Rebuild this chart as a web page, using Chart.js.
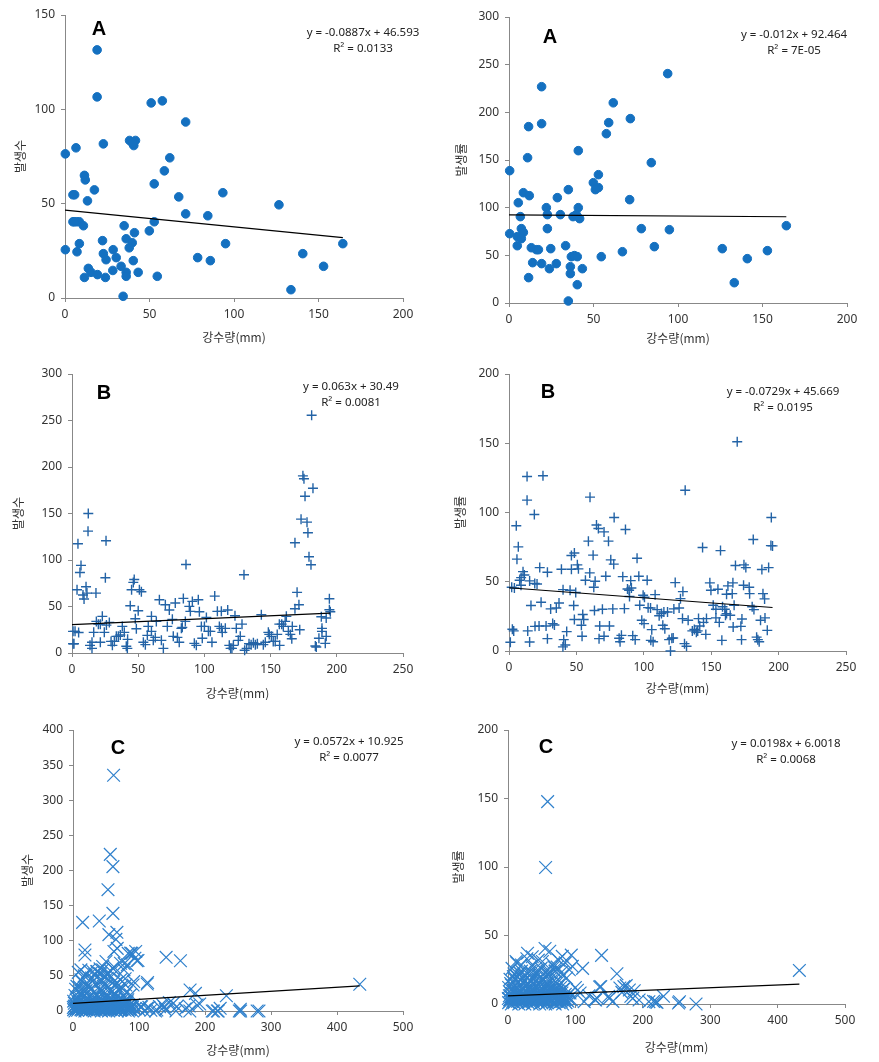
<!DOCTYPE html>
<html>
<head>
<meta charset="utf-8">
<script src="https://cdn.jsdelivr.net/npm/chart.js@4.4.0/dist/chart.umd.min.js"></script>
<style>
html, body { margin: 0; padding: 0; background: #fff; }
#wrap { position: relative; width: 879px; height: 1062px; overflow: hidden; }
#wrap canvas { position: absolute; }
</style>
</head>
<body>
<div id="wrap">
	<canvas id="cA1"></canvas>
	<canvas id="cA2"></canvas>
	<canvas id="cB1"></canvas>
	<canvas id="cB2"></canvas>
	<canvas id="cC1"></canvas>
	<canvas id="cC2"></canvas>
</div>
<script>
// --- A : 강수량 vs 발생수 / 발생률 (circles)
const aRainL = [19, 19, 51, 57.6, 71.4, 22.7, 6.5, 0.2, 38.2, 41.7,
	40.7, 40, 62, 58.8, 11.5, 12, 52.8, 17.4, 4.7, 5.7,
	67.3, 93.4, 13.3, 126.6, 71.4, 84.5, 4.7, 6.9, 8.5, 52.8,
	10.9, 35, 49.9, 41.1, 36.2, 22.2, 8.5, 39.8, 38, 95,
	164.4, 0.2, 7.1, 28.5, 22.7, 140.7, 24.3, 30.3, 78.5, 40.4,
	86, 13.8, 15.4, 153, 33.2, 28.3, 43.3, 36.2, 19.2, 11.5,
	23.9, 36.2, 54.6, 133.7, 34.4, 5.5];
const aCountL = [131.5, 106.6, 103.4, 104.5, 93.3, 81.7, 79.6, 76.4, 83.5, 83.5,
	80.8, 82, 74.3, 67.4, 65, 62.6, 60.5, 57.3, 54.7, 54.7,
	53.6, 55.8, 51.5, 49.4, 44.6, 43.6, 40.4, 40.4, 40.4, 40.4,
	38.3, 38.3, 35.6, 34.6, 31.4, 30.4, 28.8, 29.3, 26.6, 28.8,
	28.8, 25.6, 24.5, 25.6, 23.5, 23.5, 20.3, 21.4, 21.4, 19.8,
	19.8, 15.7, 13.6, 16.8, 16.8, 14.6, 13.6, 13.6, 12.4, 10.9,
	10.9, 11.5, 11.5, 4.4, 0.9, 40.4];

const aRainR = [93.9, 19.3, 61.7, 71.8, 59, 19.3, 11.6, 57.6, 41, 11,
	84.2, 0.4, 52.9, 49.9, 52.9, 51.1, 35.1, 8.5, 12, 28.6,
	71.4, 5.5, 22.1, 41, 22.7, 30.4, 37.9, 39.8, 41.8, 6.7,
	164.1, 22.7, 78.3, 94.9, 7.3, 8.5, 0.4, 4.9, 7.3, 4.9,
	33.5, 86, 13.2, 16.2, 17.4, 24.7, 126.2, 152.9, 67.1, 36.9,
	38.7, 40.4, 54.6, 141, 14, 19.3, 28, 36.3, 23.9, 43.4,
	36.3, 11.6, 40.4, 133.3, 35.1];
const aRateR = [240.6, 226.9, 210, 193.4, 189.2, 188.1, 185, 177.6, 159.8, 152.4,
	147.2, 138.8, 134.6, 126.2, 121, 118.9, 118.9, 115.7, 112.6, 110.5,
	108.4, 105.2, 100, 100, 92.7, 92.7, 90.6, 92.7, 88.5, 90.6,
	81.1, 78, 78, 76.9, 78, 74.1, 72.7, 69.6, 67.5, 60.1,
	60.1, 59.1, 58, 55.9, 55.9, 57, 57, 54.9, 53.8, 48.6,
	49.7, 48.6, 48.6, 46.5, 42.3, 41.3, 41.3, 38.1, 36, 36,
	30.8, 26.6, 19.2, 21.3, 2.1];

// --- B (plus markers)
const bRainL = [181, 174.4, 175.2, 182, 176, 173, 177.5, 178.2, 168.4, 179,
	180.5, 170, 171.4, 168.4, 194.4, 194.4, 195.1, 188.3, 172, 166,
	188.8, 188.8, 186.5, 192, 191.3, 183.8, 184.5, 192, 12.3, 12.1,
	25.7, 4.5, 6.8, 6, 25.2, 10.6, 11.3, 3.8, 8.3, 9.1,
	18.1, 0.8, 2.3, 0.8, 47, 46.3, 45, 50.9, 52.4, 44,
	50, 47.8, 48.6, 86.1, 129.9, 22.9, 18.4, 19.9, 21.4, 16.4,
	24.4, 21.4, 15.1, 13.6, 15.1, 28.2, 29.5, 30.5, 32, 33.5,
	35, 36.5, 38, 39.5, 41, 41.8, 42, 56.9, 55.4, 53.9,
	60, 57.6, 60, 61.4, 63.7, 66, 62.9, 67.5, 69, 70.5,
	72, 73.5, 75.8, 76.5, 78, 79.6, 81, 82.6, 83.3, 84.1,
	85.6, 88.6, 89.4, 90.9, 92.4, 93.9, 95.4, 96.2, 97.7, 98.4,
	100, 101.5, 103, 104.5, 105.7, 107.8, 109.8, 111.3, 112.8, 112.8,
	113.5, 115.8, 117.6, 118.8, 119.8, 120.8, 121.9, 123.1, 124.1, 125.6,
	127.1, 128.4, 130.4, 131.9, 133.7, 135.3, 137, 138.5, 140, 143,
	144.5, 146, 148.3, 149, 150.6, 152, 153.5, 156.8, 155, 156.6,
	158.4, 159.6, 161, 161.9, 163.4, 164.9, 166.4, 5, 1.5, 26];
const bCountL = [255.6, 190.5, 187.3, 177.2, 168.6, 143.9, 140.7, 129.3, 118.5, 103.5,
	94.9, 65.2, 51.9, 47.6, 58.4, 46.5, 44.4, 39, 25, 15.4,
	26.5, 23.3, 15.8, 17.9, 10.4, 7.5, 6.4, 37.6, 150, 131,
	120.7, 117.4, 94.2, 86.6, 80.9, 71.2, 64.4, 68, 62.3, 58,
	64.4, 23.3, 23.3, 10, 79.1, 75.9, 68, 68, 65.9, 50.8,
	45.5, 36.9, 26.1, 95.2, 84.1, 39.4, 34, 31, 31, 22.2,
	22.2, 11.5, 11.5, 8.2, 5, 32.9, 12.5, 8.2, 12.5, 17.9,
	17.9, 19.3, 28.6, 22.2, 7.2, 5, 14.7, 19, 9, 11.5,
	39.4, 28.6, 23.3, 13.6, 34, 57.3, 16.8, 13.6, 5, 51.9,
	28.6, 46.2, 36.2, 17.9, 53.7, 16.8, 11.5, 26.5, 27.6, 58.7,
	34, 50.1, 44.8, 55.5, 10.4, 8.2, 57.3, 44.4, 28.6, 15.8,
	28.6, 38.3, 23.3, 23.3, 11.5, 61.2, 44.8, 28.6, 26.5, 44.8,
	22.2, 26.5, 46.2, 8.2, 5, 5, 8.2, 40.1, 26.5, 13.6,
	17.9, 31, 2.9, 5, 10, 9, 11, 9, 10, 41.2,
	9, 11.5, 22.2, 20, 17.9, 12.5, 12.5, 8.2, 20, 31,
	31, 28.6, 34, 39.4, 23.3, 20, 28.6, 22, 10, 30];

const bRainR = [169.3, 13.4, 25.2, 130.7, 60.1, 13.4, 18.8, 194.6, 78, 5.4,
	64.9, 66.3, 70.5, 86.4, 73.8, 58.9, 181.2, 6.9, 143.6, 156.9,
	194.3, 195.5, 5.9, 95, 62.4, 46.3, 48.5, 75.5, 77.7, 168,
	174.3, 175.7, 187.6, 192.6, 22.8, 28.5, 38.9, 46.3, 50.7, 51.5,
	59.9, 10.4, 11.4, 7.9, 8.9, 4, 15.3, 19.1, 20.8, 56.7,
	62.9, 71.8, 84.4, 90.3, 90.8, 96.3, 102.5, 87.9, 89.1, 123.3,
	129, 40.1, 45.3, 49.5, 108.4, 99.5, 100.5, 89.4, 127.2, 149,
	149.8, 155, 162.4, 166.1, 161.4, 174, 178.2, 165.6, 178.5, 188.4,
	189.6, 180.4, 181.7, 167, 151.5, 153.5, 158.4, 160.1, 126.2, 122.3,
	37.1, 35.1, 30.9, 48, 16.3, 23.8, 63.4, 69.3, 77, 85.6,
	97, 103.2, 105, 109.9, 114.9, 117.6, 111.4, 113.1, 128.7, 132.9,
	140.6, 144.3, 146.5, 153.5, 156, 160.6, 161.4, 164.1, 172.8, 172,
	186.6, 189.9, 191.6, 55.4, 48.5, 54.7, 53.7, 32.4, 33.7, 19.3,
	22.3, 27.5, 2.5, 3.5, 13.9, 42.8, 54.2, 67.3, 74.5, 66.8,
	70.5, 83.4, 81.7, 82.4, 91.8, 93.6, 98.5, 100.2, 105.9, 105.2,
	106.9, 114.1, 115.6, 118.8, 120.8, 121.8, 119.8, 130.2, 131.7, 136,
	137.5, 139, 140, 146, 157.9, 166.3, 172.5, 183.7, 184.6, 185.6,
	15.3, 1, 28.5, 40.6, 41.8, 63.9, 141.5, 40, 2, 9];
const bRateR = [151.1, 126, 126.5, 116.1, 111.1, 108.9, 98.6, 96.4, 96.4, 90.4,
	91, 88.4, 86, 87.7, 79.3, 79.3, 80.5, 75.2, 74.7, 72.5,
	76.1, 75.9, 66.3, 67, 69.2, 68.9, 70.8, 65.8, 62.7, 61.7,
	62.2, 60.2, 58.8, 60.2, 60.2, 56.9, 59, 59, 62.2, 59.3,
	56.4, 57.3, 54.9, 51.1, 47.5, 45.5, 50.6, 48.7, 48.4, 51.1,
	46, 54, 53.7, 50.8, 45.5, 54, 51.1, 44.8, 43.9, 49.4,
	42.9, 44.3, 43.9, 42.2, 40.7, 40.2, 38.8, 39.3, 37.8, 49.2,
	43.9, 44.6, 47, 49.2, 41, 47.5, 46, 41.4, 41.4, 41.4,
	37.6, 32, 29.9, 33, 33, 30.1, 32, 30.1, 31.1, 30.4,
	34.7, 31.1, 30.4, 32.8, 32.8, 35.2, 29.2, 30.1, 30.4, 30.6,
	33, 31.3, 31.1, 29.9, 28.2, 28.2, 25.5, 27, 23.4, 22.2,
	23.4, 20.7, 23.4, 23.9, 20.7, 25.8, 27, 25.8, 23.1, 17.8,
	22.2, 23.9, 14.9, 22.7, 22.7, 26.3, 18.6, 19.8, 18.8, 17.8,
	18.1, 18.1, 15.7, 14.5, 14.5, 14, 10.6, 18.1, 18.1, 8.9,
	10.6, 11.3, 9.2, 6.7, 11.1, 8.2, 22.2, 19.8, 15.4, 7.7,
	6.7, 18.6, 16.1, 8.2, 9.2, 9.4, 0, 5.3, 3.4, 14.5,
	15.5, 13.5, 14.5, 12, 7.7, 17.3, 8.2, 10, 8.2, 6.7,
	6.5, 6.3, 8.9, 8.2, 4.3, 50.4, 18, 3, 46, 53];

// --- C (x markers): scattered points read one by one
const cRainL = [61.5, 56.5, 60.5, 53, 60.5, 14.6, 39.8, 54.4, 66.5, 65,
	67, 18.1, 18.1, 141.1, 162.8, 93.8, 89.2, 96.8, 83.7, 77.6,
	36, 42, 112.4, 434.5, 177.4, 185.5, 232.4, 192, 151.7, 157.3,
	136, 127, 131, 104, 112, 177, 213, 220, 223, 252,
	253.5, 279, 156, 125, 140, 100, 108, 118, 146, 170,
	62, 87.4, 95, 98.5, 50, 45, 72, 82.3, 77.3, 12,
	20, 30, 37, 45, 52, 60, 12, 22, 32, 42,
	52, 62, 72, 80, 92, 113, 138, 176, 188, 102.5,
	115, 211, 218.7, 254, 281.8, 8, 17, 24, 33, 41,
	49, 57, 63];
const cCountL = [335.5, 223, 205.5, 172.7, 139, 126.2, 128.1, 108.7, 112, 102,
	89.2, 86.8, 79.7, 76.4, 71.6, 75, 82, 71.6, 82, 67.4,
	56, 53, 38.4, 38, 29.9, 25.1, 21.8, 10, 10.9, 6.2,
	8.5, 1.4, 6.2, 6, 3.8, 0, 0, 0, 3.8, 0,
	2.4, 0, 0, 0, 2, 2, 0, 1, 12, 3,
	84.8, 82.4, 84.8, 71.9, 70.5, 63.3, 68, 65.7, 58.6, 58.6,
	51.4, 56.2, 56.2, 58.6, 53.8, 61, 44.3, 39.5, 44.3, 41.9,
	46.7, 41.9, 44.3, 37.1, 41.9, 40.5, 6.2, 7.1, 8.6, 6.2,
	5.2, 0, 0, 0, 0, 55, 50, 58, 52, 60,
	48, 57, 62];
const cRainR = [58.8, 55.8, 138.8, 432.3, 110.7, 161.6, 55, 62, 29, 93.9,
	80.5, 95.4, 135.9, 175.4, 187.3, 182.3, 166, 169, 149.2, 155.6,
	129, 131.9, 230.7, 216, 221, 253, 254.4, 279, 113, 103,
	107, 172, 180, 137.6, 130, 150, 185, 194.5, 209, 219,
	75, 68, 45, 20, 12, 36, 85, 70, 100, 120,
	8, 17, 24, 33, 41, 49, 57, 63];
const cRateR = [147.7, 99.6, 35.5, 24.5, 26, 22.1, 40.5, 38.5, 37, 35.7,
	34.8, 27.5, 12.4, 13.4, 9.7, 5.6, 11.7, 8.5, 5.6, 1.9,
	3.2, 4.4, 5.6, 1.9, 1.2, 0.7, 1.7, 0, 1.7, 10,
	8, 12.7, 10.2, 12.7, 2.9, 4.1, 4.1, 2.9, 1.7, 1.7,
	32, 27, 32, 28.5, 31, 34.5, 30, 24, 12, 6,
	20, 23, 21, 24, 22, 26, 20, 23];

// C dense blob near the origin (same 강수량 values on both sides)
const cBlobRain = [1, 3, 5, 7, 9, 12, 14, 16, 18, 21, 23, 25, 27, 30, 32, 34, 36, 38, 41, 43,
	45, 47, 50, 52, 54, 56, 58, 61, 63, 65, 67, 70, 72, 74, 76, 79, 81, 84, 86, 89,
	2, 4, 6, 8, 11, 13, 15, 17, 20, 22, 24, 26, 29, 31, 33, 35, 37, 40, 42, 44,
	46, 49, 51, 53, 55, 57, 60, 62, 64, 66, 69, 71, 73, 75, 78, 80, 83, 85, 88, 92,
	1, 5, 8, 12, 15, 19, 22, 26, 29, 33, 36, 40, 43, 47, 50, 54, 57, 61, 64, 68,
	71, 75, 78, 82,
	3, 9, 14, 20, 25, 31, 37, 42, 48, 53, 59, 64, 70, 76, 81, 87,
	6, 13, 19, 28, 35, 44, 51, 58, 66, 73, 79, 91,
	0.5, 2.5, 4.5, 6.5, 8.5, 10.5, 13, 15, 17, 19, 22, 24, 26, 28, 31, 33, 35, 37, 39, 42,
	44, 46, 48, 51, 53, 55, 57, 59, 62, 64, 66, 68, 71, 73, 75, 77, 80, 82, 85, 87,
	90, 94,
	2, 6, 10, 14, 18, 23, 27, 31, 35, 39, 44, 48, 52, 56, 60, 65, 69, 73, 77, 83,
	4, 10, 16, 22, 28, 34, 40, 46, 52, 58, 64, 70];
const cBlobCount = [2, 0, 3, 1, 4, 2, 1, 3, 0, 2, 4, 1, 3, 2, 0, 3, 1, 4, 2, 0,
	3, 1, 2, 4, 0, 2, 3, 1, 4, 2, 0, 3, 1, 2, 4, 1, 3, 0, 2, 1,
	7, 9, 6, 10, 8, 7, 9, 6, 10, 8, 7, 9, 6, 8, 10, 7, 9, 6, 8, 10,
	7, 9, 6, 8, 10, 7, 9, 6, 8, 7, 9, 6, 10, 8, 7, 9, 6, 8, 7, 9,
	14, 16, 12, 17, 13, 15, 18, 12, 16, 14, 17, 13, 15, 12, 18, 14, 16, 13, 17, 15,
	12, 16, 14, 13,
	22, 27, 24, 29, 21, 26, 23, 28, 25, 22, 27, 24, 29, 21, 26, 23,
	35, 42, 33, 47, 38, 44, 36, 49, 40, 34, 46, 37,
	5, 4, 5, 6, 4, 5, 3, 6, 5, 4, 5, 6, 4, 5, 3, 5, 6, 4, 5, 3,
	5, 4, 6, 5, 4, 5, 3, 6, 4, 5, 6, 4, 5, 3, 5, 6, 4, 5, 3, 4,
	5, 3,
	11, 19, 13, 20, 11, 18, 12, 19, 11, 20, 12, 18, 11, 19, 13, 20, 11, 17, 12, 16,
	31, 34, 30, 36, 32, 38, 31, 35, 33, 30, 37, 32];
const cBlobRate = [1, 3, 0, 2, 1, 4, 2, 0, 3, 1, 2, 0, 4, 1, 3, 2, 0, 1, 3, 2,
	4, 0, 1, 3, 2, 0, 1, 4, 2, 3, 1, 0, 2, 3, 1, 2, 0, 3, 1, 2,
	6, 8, 5, 9, 7, 6, 8, 5, 9, 7, 6, 8, 5, 7, 9, 6, 8, 5, 7, 9,
	6, 8, 5, 7, 9, 6, 8, 5, 7, 6, 8, 5, 9, 7, 6, 8, 5, 7, 6, 8,
	12, 14, 10, 15, 11, 13, 16, 10, 14, 12, 15, 11, 13, 10, 16, 12, 14, 11, 15, 13,
	10, 14, 12, 11,
	18, 22, 20, 24, 17, 21, 19, 23, 20, 18, 22, 19, 24, 17, 21, 19,
	26, 30, 22, 33, 28, 25, 31, 24, 29, 27, 23, 25,
	4, 3, 5, 4, 3, 5, 4, 3, 4, 5, 3, 4, 5, 3, 4, 4, 5, 3, 4, 5,
	3, 4, 5, 4, 3, 5, 4, 3, 5, 4, 3, 4, 5, 3, 4, 4, 3, 5, 4, 3,
	4, 3,
	9, 11, 10, 12, 9, 11, 13, 10, 12, 9, 11, 13, 10, 12, 9, 11, 10, 12, 9, 11,
	15, 18, 16, 19, 15, 17, 19, 16, 18, 15, 17, 16];

// trendlines (Excel 선형 추세선), in panel order A1 A2 B1 B2 C1 C2
const trendSlope = [-0.0887, -0.012, 0.063, -0.0729, 0.0572, 0.0198];
const trendIntercept = [46.593, 92.464, 30.49, 45.669, 10.925, 6.0018];
const trendEnd = [164.4, 164.1, 195, 195.5, 434.5, 432.3];
const eqText = ['y = -0.0887x + 46.593', 'y = -0.012x + 92.464', 'y = 0.063x + 30.49',
	'y = -0.0729x + 45.669', 'y = 0.0572x + 10.925', 'y = 0.0198x + 6.0018'];
const r2Text = ['R² = 0.0133', 'R² = 7E-05', 'R² = 0.0081', 'R² = 0.0195', 'R² = 0.0077', 'R² = 0.0068'];
const letters = ['A', 'A', 'B', 'B', 'C', 'C'];
const yTitles = ['발생수', '발생률', '발생수', '발생률', '발생수', '발생률'];
const xMaxes = [200, 200, 250, 250, 500, 500];
const yMaxes = [150, 300, 300, 200, 400, 200];
const xTitle = '강수량(mm)';

function pts(xs, ys) {
	return xs.map((x, i) => ({x: x, y: ys[i]}));
}

const markers = {
	circle: {pointStyle: 'circle', pointRadius: 4.3, borderWidth: 1, backgroundColor: '#1470C0', borderColor: '#1470C0'},
	plus: {pointStyle: 'cross', pointRadius: 5, borderWidth: 1.4, borderColor: '#2363A6'},
	x: {pointStyle: 'crossRot', pointRadius: 9, borderWidth: 1.2, borderColor: '#2F80CC'}
};

// layout of each panel (canvas box + plot area inside it)
const panels = [
	{id: 'cA1', box: [0, 0, 440, 355], plot: [65, 15, 403, 298], xTitleY: 337, yTitleX: 20, letterAt: [99, 29], eqAt: [363, 33], marker: 'circle', pts: pts(aRainL, aCountL)},
	{id: 'cA2', box: [440, 0, 439, 355], plot: [69, 17, 407, 303], xTitleY: 338, yTitleX: 21, letterAt: [110, 37], eqAt: [354, 35], marker: 'circle', pts: pts(aRainR, aRateR)},
	{id: 'cB1', box: [0, 355, 440, 345], plot: [72, 19, 403, 298], xTitleY: 338, yTitleX: 18, letterAt: [104, 38], eqAt: [351, 32], marker: 'plus', pts: pts(bRainL, bCountL)},
	{id: 'cB2', box: [440, 355, 439, 345], plot: [69, 19, 406, 296], xTitleY: 333, yTitleX: 20, letterAt: [108, 37], eqAt: [343, 37], marker: 'plus', pts: pts(bRainR, bRateR)},
	{id: 'cC1', box: [0, 700, 440, 362], plot: [73, 30, 403, 311], xTitleY: 350, yTitleX: 27, letterAt: [118, 48], eqAt: [349, 42], marker: 'x', pts: pts(cRainL.concat(cBlobRain), cCountL.concat(cBlobCount))},
	{id: 'cC2', box: [440, 700, 439, 362], plot: [68, 30, 405, 304], xTitleY: 347, yTitleX: 18, letterAt: [106, 47], eqAt: [346, 44], marker: 'x', pts: pts(cRainR.concat(cBlobRain), cRateR.concat(cBlobRate))}
];

// letter + trendline equation drawn on top
const panelText = {
	id: 'panelText',
	afterDraw(chart, args, opts) {
		const ctx = chart.ctx;
		ctx.save();
		ctx.fillStyle = '#000';
		ctx.textAlign = 'center';
		ctx.textBaseline = 'middle';
		ctx.font = 'bold 20px "Liberation Sans", Arial, sans-serif';
		ctx.fillText(opts.letter, opts.letterAt[0], opts.letterAt[1]);
		ctx.font = '11.5px "Noto Sans", sans-serif';
		ctx.fillStyle = '#222';
		ctx.fillText(opts.eq, opts.eqAt[0], opts.eqAt[1]);
		ctx.fillText(opts.r2, opts.eqAt[0], opts.eqAt[1] + 16);
		ctx.restore();
	}
};

const titleFont = {family: '"Noto Sans CJK KR", "Noto Sans", sans-serif', size: 12};
const tickFont = {family: '"Noto Sans", sans-serif', size: 12};

panels.forEach((p, i) => {
	const cv = document.getElementById(p.id);
	const [bx, by, bw, bh] = p.box;
	const [pl, pt, pr, pb] = p.plot;
	cv.width = bw;
	cv.height = bh;
	cv.style.left = bx + 'px';
	cv.style.top = by + 'px';
	const lh = 12 * 1.2;

	new Chart(cv, {
		type: 'scatter',
		data: {
			datasets: [
				{
					data: [{x: 0, y: trendIntercept[i]}, {x: trendEnd[i], y: trendSlope[i] * trendEnd[i] + trendIntercept[i]}],
					showLine: true, borderColor: '#000', borderWidth: 1.2, pointRadius: 0, clip: false
				},
				Object.assign({data: p.pts, clip: false}, markers[p.marker])
			]
		},
		options: {
			responsive: false,
			animation: false,
			devicePixelRatio: 1,
			events: [],
			layout: {padding: {left: 0, top: pt, right: bw - pr, bottom: 0}},
			plugins: {
				legend: {display: false},
				tooltip: {enabled: false},
				panelText: {letter: letters[i], letterAt: p.letterAt, eq: eqText[i], r2: r2Text[i], eqAt: p.eqAt}
			},
			scales: {
				x: {
					type: 'linear', min: 0, max: xMaxes[i],
					afterFit: s => { s.height = bh - pb; },
					ticks: {stepSize: xMaxes[i] / 4 >= 100 ? 100 : 50, font: tickFont, color: '#333', padding: 5, maxRotation: 0},
					grid: {drawOnChartArea: false, color: '#888', tickLength: 4},
					border: {color: '#888'},
					title: {display: true, text: xTitle, font: titleFont, color: '#333', padding: {top: 0, bottom: bh - p.xTitleY - lh / 2}}
				},
				y: {
					type: 'linear', min: 0, max: yMaxes[i],
					afterFit: s => { s.width = pl; },
					ticks: {stepSize: 50, font: tickFont, color: '#333', padding: 6},
					grid: {drawOnChartArea: false, color: '#888', tickLength: 4},
					border: {color: '#888'},
					title: {display: true, text: yTitles[i], font: titleFont, color: '#333', padding: {top: p.yTitleX - lh / 2, bottom: 0}}
				}
			}
		},
		plugins: [panelText]
	});
});
</script>
</body>
</html>
